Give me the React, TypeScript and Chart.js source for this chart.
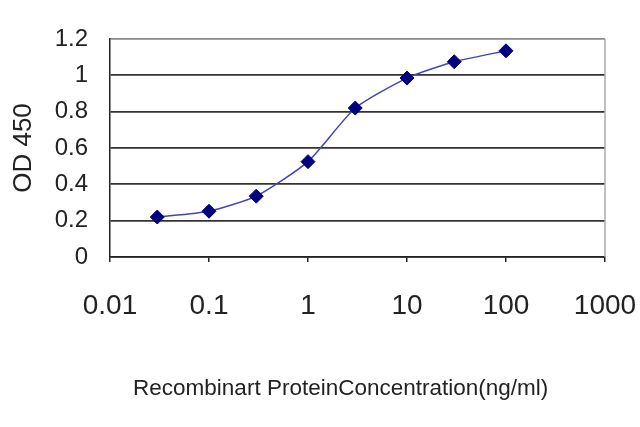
import React, { useEffect, useRef } from "react";
import { Chart, registerables } from "chart.js";

Chart.register(...registerables);

const CONCENTRATIONS = [0.03, 0.1, 0.3, 1, 3, 10, 30, 100];
const OD450 = [0.22, 0.252, 0.335, 0.525, 0.82, 0.985, 1.075, 1.135];
const X_TICKS = [0.01, 0.1, 1, 10, 100, 1000];
const X_TICK_LABELS = ["0.01", "0.1", "1", "10", "100", "1000"];
const Y_TICKS = [0, 0.2, 0.4, 0.6, 0.8, 1, 1.2];
const Y_TICK_LABELS = ["0", "0.2", "0.4", "0.6", "0.8", "1", "1.2"];
const X_TITLE = "Recombinart ProteinConcentration(ng/ml)";
const Y_TITLE = "OD 450";

const SANS = "'Liberation Sans', Arial, sans-serif";

const framePlugin = {
  id: "framePlugin",
  beforeDatasetsDraw(chart: any) {
    const { ctx, chartArea } = chart;
    ctx.save();
    ctx.strokeStyle = "#aaaaaa";
    ctx.lineWidth = 1.5;
    ctx.beginPath();
    ctx.moveTo(chartArea.right, chartArea.top);
    ctx.lineTo(chartArea.right, chartArea.bottom);
    ctx.stroke();
    ctx.restore();
  },
  afterDraw(chart: any) {
    const { ctx, chartArea } = chart;
    ctx.save();
    ctx.font = `22.5px ${SANS}`;
    ctx.fillStyle = "#222";
    ctx.textAlign = "center";
    ctx.textBaseline = "middle";
    ctx.fillText(X_TITLE, chartArea.left + chartArea.width * 0.466, chartArea.bottom + 132);
    ctx.restore();
  },
};

export default function App() {
  const ref = useRef<HTMLCanvasElement | null>(null);
  useEffect(() => {
    if (!ref.current) return;
    const chart = new Chart(ref.current, {
      type: "line",
      data: {
        datasets: [
          {
            data: CONCENTRATIONS.map((c, i) => ({ x: c, y: OD450[i] })),
            borderColor: "#4444b4",
            borderWidth: 1.5,
            backgroundColor: "#000080",
            pointBackgroundColor: "#000080",
            pointBorderColor: "#000080",
            pointStyle: "rectRot",
            pointRadius: 7,
            pointBorderWidth: 1,
            tension: 0.2,
            fill: false,
          },
        ],
      },
      plugins: [framePlugin],
      options: {
        responsive: false,
        animation: false,
        events: [],
        layout: { padding: { top: 39, left: 0, right: 35, bottom: 0 } },
        plugins: {
          legend: { display: false },
          tooltip: { enabled: false },
          title: { display: false },
        },
        scales: {
          x: {
            type: "logarithmic",
            min: 0.01,
            max: 1000,
            afterBuildTicks: (scale: any) => {
              scale.ticks = X_TICKS.map((v) => ({ value: v }));
            },
            afterFit: (scale: any) => {
              scale.height = 170;
              scale.paddingLeft = 0;
              scale.paddingRight = 0;
            },
            ticks: {
              autoSkip: false,
              maxRotation: 0,
              padding: 27,
              color: "#222",
              font: { family: SANS, size: 28 },
              callback: (_v: any, i: number) => X_TICK_LABELS[i],
            },
            grid: {
              display: true,
              drawOnChartArea: false,
              drawTicks: true,
              tickLength: 5,
              color: "#222",
              lineWidth: 1.5,
            },
            border: { display: true, color: "#222", width: 1.5 },
          },
          y: {
            min: 0,
            max: 1.2,
            afterBuildTicks: (scale: any) => {
              scale.ticks = Y_TICKS.map((v) => ({ value: v }));
            },
            afterFit: (scale: any) => {
              scale.width = 110;
            },
            ticks: {
              padding: 22,
              color: "#222",
              font: { family: SANS, size: 24 },
              callback: (_v: any, i: number) => Y_TICK_LABELS[i],
            },
            grid: {
              drawTicks: false,
              color: (ctx: any) => (ctx.index === Y_TICKS.length - 1 ? "#8a8a8a" : "#333333"),
              lineWidth: 1.75,
            },
            border: { display: true, color: "#222", width: 1.5 },
            title: {
              display: true,
              text: Y_TITLE,
              color: "#222",
              font: { family: SANS, size: 26 },
              padding: { top: 8, bottom: 0 },
            },
          },
        },
      },
    } as any);
    return () => chart.destroy();
  }, []);
  return (
    <div style={{ position: "fixed", left: 0, top: 0, width: 640, height: 427, background: "#fff" }}>
      <canvas ref={ref} width={640} height={427} style={{ width: 640, height: 427 }} />
    </div>
  );
}
